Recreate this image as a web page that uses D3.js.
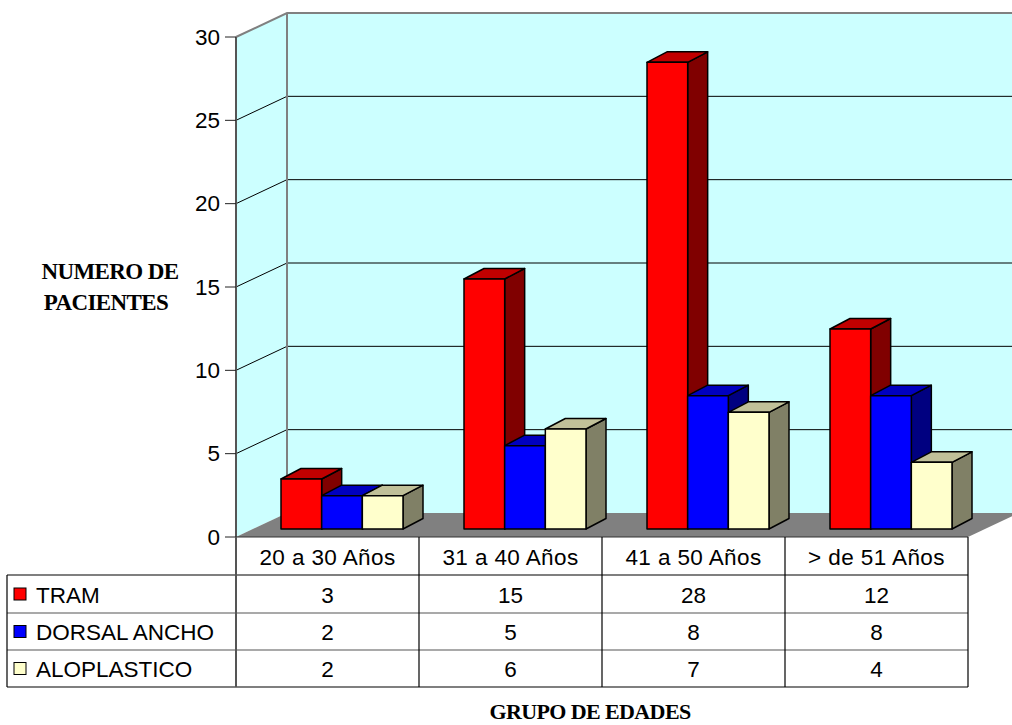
<!DOCTYPE html>
<html>
<head>
<meta charset="utf-8">
<script src="https://cdn.jsdelivr.net/npm/d3@7"></script>
<style>
  html, body { margin: 0; padding: 0; background: #ffffff; }
  svg { display: block; }
</style>
</head>
<body>
<svg id="chart" width="1012" height="725"></svg>
<script>
// Patients by age group and reconstruction technique
const categories = ["20 a 30 Años", "31 a 40 Años", "41 a 50 Años", "> de 51 Años"];
const seriesNames = ["TRAM", "DORSAL ANCHO", "ALOPLASTICO"];
const tram = [3, 15, 28, 12];
const dorsalAncho = [2, 5, 8, 8];
const aloplastico = [2, 6, 7, 4];
const yTicks = [0, 5, 10, 15, 20, 25, 30];

const seriesValues = [tram, dorsalAncho, aloplastico];
const faceColors = [
  { front: "#ff0000", top: "#c00000", side: "#800000" },
  { front: "#0000ff", top: "#0000c0", side: "#000080" },
  { front: "#ffffcc", top: "#c0c099", side: "#808066" }
];

const svg = d3.select("#chart");
const font = "'Liberation Sans', Arial, sans-serif";
const serif = "'Liberation Serif', 'Times New Roman', serif";

// Plot frame: front plane and depth vector of the 3D box
const left = 236, right = 968, yBottom = 537, yTop = 37;
const depth = { x: 51, y: -24 };
const y = d3.scaleLinear().domain([0, 30]).range([yBottom, yTop]);
const x = d3.scaleBand().domain(categories).range([left, right]);

// Bars stand a third of the way into the floor and are this deep
const barShift = { x: 14.5, y: -8 };
const barDepth = { x: 20, y: -10.5 };
const inner = d3.scaleBand().domain(d3.range(seriesNames.length))
  .range([0, x.bandwidth()]).paddingOuter(0.75).paddingInner(0);

const pts = arr => arr.map(p => p.join(",")).join(" ");

// Left side wall
svg.append("polygon")
  .attr("points", pts([[left, yBottom], [left, yTop], [left + depth.x, yTop + depth.y], [left + depth.x, yBottom + depth.y]]))
  .attr("fill", "#ccffff");

// Back wall
svg.append("rect")
  .attr("x", left + depth.x).attr("y", yTop + depth.y)
  .attr("width", right - left).attr("height", yBottom - yTop)
  .attr("fill", "#ccffff");

// Gridlines on side wall and back wall
yTicks.filter(t => t > 0 && t < 30).forEach(t => {
  svg.append("polyline")
    .attr("points", pts([[left, y(t)], [left + depth.x, y(t) + depth.y], [right + depth.x, y(t) + depth.y]]))
    .attr("fill", "none").attr("stroke", "#000").attr("stroke-width", 1);
});

// Wall outline
svg.append("polyline")
  .attr("points", pts([[left, yTop], [left + depth.x, yTop + depth.y], [right + depth.x, yTop + depth.y]]))
  .attr("fill", "none").attr("stroke", "#808080").attr("stroke-width", 2);
svg.append("line")
  .attr("x1", left + depth.x).attr("x2", left + depth.x)
  .attr("y1", yTop + depth.y).attr("y2", yBottom + depth.y)
  .attr("stroke", "#808080").attr("stroke-width", 2);

// Floor
svg.append("polygon")
  .attr("points", pts([[left, yBottom], [right, yBottom], [right + depth.x, yBottom + depth.y], [left + depth.x, yBottom + depth.y]]))
  .attr("fill", "#808080");

// Y axis
svg.append("line")
  .attr("x1", left).attr("x2", left).attr("y1", yTop).attr("y2", yBottom)
  .attr("stroke", "#555").attr("stroke-width", 2);
const yAxis = svg.append("g").selectAll("g").data(yTicks).join("g");
yAxis.append("line")
  .attr("x1", left - 11).attr("x2", left).attr("y1", d => y(d)).attr("y2", d => y(d))
  .attr("stroke", "#222").attr("stroke-width", 1);
yAxis.append("text")
  .attr("x", left - 16).attr("y", d => y(d))
  .attr("text-anchor", "end").attr("dominant-baseline", "central")
  .attr("font-family", font).attr("font-size", 22.5).attr("fill", "#000")
  .text(d => d);

// Bars, drawn left to right so later faces cover earlier side faces
categories.forEach((cat, ci) => {
  seriesValues.forEach((vals, si) => {
    const v = vals[ci];
    const x0 = x(cat) + barShift.x + inner(si);
    const x1 = x0 + inner.bandwidth();
    const yb = y(0) + barShift.y;
    const yt = y(v) + barShift.y;
    const c = faceColors[si];
    const g = svg.append("g").attr("stroke", "#000").attr("stroke-width", 1.5).attr("stroke-linejoin", "round");
    g.append("polygon")
      .attr("points", pts([[x1, yb], [x1 + barDepth.x, yb + barDepth.y], [x1 + barDepth.x, yt + barDepth.y], [x1, yt]]))
      .attr("fill", c.side);
    g.append("polygon")
      .attr("points", pts([[x0, yt], [x1, yt], [x1 + barDepth.x, yt + barDepth.y], [x0 + barDepth.x, yt + barDepth.y]]))
      .attr("fill", c.top);
    g.append("rect")
      .attr("x", x0).attr("y", yt).attr("width", x1 - x0).attr("height", yb - yt)
      .attr("fill", c.front);
  });
});

// Data table below the plot
const rowLines = [537, 575, 613, 650, 687];
const tableLeft = 7;
const tableFont = 22.5;
const t = svg.append("g");

// horizontal rules
t.append("line").attr("x1", left).attr("x2", right).attr("y1", rowLines[0]).attr("y2", rowLines[0])
  .attr("stroke", "#333").attr("stroke-width", 1);
rowLines.slice(1).forEach((ry, i) => {
  t.append("line").attr("x1", tableLeft).attr("x2", right).attr("y1", ry).attr("y2", ry)
    .attr("stroke", i === 1 || i === 2 ? "#555" : "#000").attr("stroke-width", 1.2);
});
// vertical rules
t.append("line").attr("x1", tableLeft).attr("x2", tableLeft).attr("y1", rowLines[1]).attr("y2", rowLines[4])
  .attr("stroke", "#000").attr("stroke-width", 1.2);
t.append("line").attr("x1", left).attr("x2", left).attr("y1", rowLines[0]).attr("y2", rowLines[4])
  .attr("stroke", "#555").attr("stroke-width", 2);
categories.forEach(cat => {
  const cx = x(cat) + x.bandwidth();
  t.append("line").attr("x1", cx).attr("x2", cx).attr("y1", rowLines[0]).attr("y2", rowLines[4])
    .attr("stroke", "#000").attr("stroke-width", 1.2);
});

// column headers
t.selectAll("text.cat").data(categories).join("text")
  .attr("class", "cat")
  .attr("x", d => x(d) + x.bandwidth() / 2)
  .attr("y", (rowLines[0] + rowLines[1]) / 2 + 1)
  .attr("text-anchor", "middle").attr("dominant-baseline", "central")
  .attr("font-family", font).attr("font-size", tableFont).attr("letter-spacing", 0.4).attr("fill", "#000")
  .text(d => d);

// series rows: legend key, name, values
seriesNames.forEach((name, si) => {
  const cy = (rowLines[si + 1] + rowLines[si + 2]) / 2 + 1;
  t.append("rect")
    .attr("x", 14).attr("y", cy - 7).attr("width", 12).attr("height", 12)
    .attr("fill", faceColors[si].front).attr("stroke", "#000").attr("stroke-width", 1);
  t.append("text")
    .attr("x", 36).attr("y", cy)
    .attr("dominant-baseline", "central")
    .attr("font-family", font).attr("font-size", tableFont).attr("fill", "#000")
    .text(name);
  t.selectAll(null).data(seriesValues[si]).join("text")
    .attr("x", (d, i) => x(categories[i]) + x.bandwidth() / 2)
    .attr("y", cy)
    .attr("text-anchor", "middle").attr("dominant-baseline", "central")
    .attr("font-family", font).attr("font-size", tableFont).attr("fill", "#000")
    .text(d => d);
});

// Axis titles
const yTitle = svg.append("text")
  .attr("text-anchor", "middle")
  .attr("font-family", serif).attr("font-weight", "bold").attr("font-size", 23)
  .attr("letter-spacing", -0.6).attr("fill", "#000");
yTitle.append("tspan").attr("x", 110).attr("y", 279).text("NUMERO DE");
yTitle.append("tspan").attr("x", 106).attr("y", 310).text("PACIENTES");

svg.append("text")
  .attr("x", 590).attr("y", 719)
  .attr("text-anchor", "middle")
  .attr("font-family", serif).attr("font-weight", "bold").attr("font-size", 22)
  .attr("letter-spacing", -0.6).attr("fill", "#000")
  .text("GRUPO DE EDADES");
</script>
</body>
</html>
